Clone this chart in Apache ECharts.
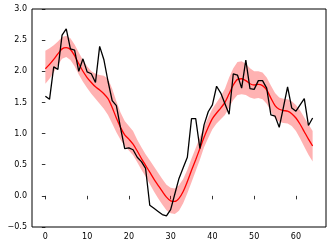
<!DOCTYPE html>
<html>
<head>
<meta charset="utf-8">
<script src="https://cdn.jsdelivr.net/npm/echarts@6/dist/echarts.min.js"></script>
<style>html,body{margin:0;padding:0;background:#fff;}#c{width:332px;height:248px;}</style>
</head>
<body>
<div id="c"></div>
<script>
var xs = [];
for (var i = 0; i <= 64; i++) xs.push(i);
var observed = [1.60,1.55,2.07,2.03,2.58,2.68,2.36,2.34,2.00,2.20,1.99,1.96,1.82,2.40,2.19,1.84,1.53,1.45,1.09,0.76,0.77,0.74,0.62,0.55,0.44,-0.15,-0.20,-0.25,-0.30,-0.32,-0.22,0.03,0.28,0.45,0.62,1.24,1.24,0.76,1.14,1.35,1.46,1.76,1.65,1.48,1.31,1.96,1.94,1.73,2.18,1.72,1.71,1.85,1.85,1.73,1.30,1.28,1.10,1.42,1.75,1.41,1.36,1.46,1.56,1.13,1.25];
var meanFit = [2.04,2.11,2.19,2.28,2.36,2.38,2.35,2.25,2.12,2.00,1.90,1.82,1.75,1.70,1.64,1.56,1.42,1.25,1.10,0.98,0.91,0.83,0.72,0.60,0.49,0.38,0.27,0.17,0.07,-0.02,-0.08,-0.09,-0.04,0.07,0.23,0.41,0.58,0.76,0.94,1.10,1.24,1.33,1.41,1.50,1.64,1.78,1.87,1.88,1.85,1.80,1.78,1.79,1.77,1.70,1.57,1.45,1.39,1.37,1.36,1.32,1.25,1.15,1.03,0.91,0.80];
var upperBand = [2.33,2.37,2.42,2.48,2.55,2.57,2.53,2.43,2.30,2.18,2.08,2.00,1.96,1.94,1.93,1.88,1.72,1.52,1.34,1.20,1.12,1.04,0.90,0.78,0.67,0.57,0.47,0.37,0.27,0.18,0.13,0.12,0.17,0.27,0.42,0.60,0.77,0.94,1.11,1.26,1.40,1.50,1.60,1.72,1.90,2.05,2.15,2.16,2.12,2.05,2.00,2.00,1.98,1.90,1.77,1.65,1.58,1.56,1.55,1.52,1.46,1.37,1.26,1.15,1.04];
var lowerBand = [1.80,1.88,1.98,2.10,2.20,2.23,2.18,2.08,1.95,1.83,1.73,1.64,1.56,1.48,1.40,1.30,1.16,1.02,0.90,0.80,0.73,0.65,0.54,0.42,0.31,0.19,0.07,-0.04,-0.14,-0.23,-0.28,-0.29,-0.24,-0.12,0.04,0.22,0.40,0.58,0.78,0.93,1.07,1.16,1.23,1.30,1.42,1.54,1.62,1.63,1.62,1.58,1.56,1.57,1.55,1.48,1.36,1.24,1.19,1.17,1.16,1.12,1.04,0.92,0.79,0.66,0.55];
var xTicks = [0,10,20,30,40,50,60];
var yTicks = [-0.5,0.0,0.5,1.0,1.5,2.0,2.5,3.0];

function pairs(v){ return xs.map(function(x,i){ return [x, v[i]]; }); }

var chart = echarts.init(document.getElementById('c'), null, {renderer:'canvas'});
var font = 'DejaVu Sans';
chart.setOption({
  animation: false,
  backgroundColor: '#fff',
  grid: {left: 32, right: 6, top: 9, bottom: 21, show: true, borderColor: '#000', borderWidth: 1, backgroundColor: 'transparent'},
  xAxis: {
    type: 'value', min: -3.2, max: 67.2,
    axisLine: {show: false},
    splitLine: {show: false},
    axisTick: {show: true, customValues: xTicks, length: 3.5, lineStyle: {color: '#000', width: 0.8}},
    axisLabel: {customValues: xTicks, color: '#000', fontFamily: font, fontSize: 8, margin: 6}
  },
  yAxis: {
    type: 'value', min: yTicks[0], max: yTicks[yTicks.length-1], interval: 0.5,
    axisLine: {show: false},
    splitLine: {show: false},
    axisTick: {show: true, length: 3.5, lineStyle: {color: '#000', width: 0.8}},
    axisLabel: {color: '#000', fontFamily: font, fontSize: 8, margin: 5,
      formatter: function(v){ var s = Math.abs(v).toFixed(1); return (v < 0 ? '\u2212' : '') + s; }}
  },
  series: [
    {type: 'custom', silent: true, z: 1, data: pairs(meanFit),
      renderItem: function(params, api){
        if (params.dataIndex !== 0) return null;
        var pts = [];
        for (var i = 0; i < xs.length; i++) pts.push(api.coord([xs[i], upperBand[i]]));
        for (var j = xs.length - 1; j >= 0; j--) pts.push(api.coord([xs[j], lowerBand[j]]));
        return {type: 'polygon', shape: {points: pts}, style: {fill: 'rgba(255,0,0,0.3)', stroke: null}};
      }},
    {type: 'line', z: 3, data: pairs(meanFit), symbol: 'none', lineStyle: {color: '#ff0000', width: 1.3}, smooth: 0.3},
    {type: 'line', z: 4, data: pairs(observed), symbol: 'none', lineStyle: {color: '#000', width: 1.3}}
  ]
});
</script>
</body>
</html>
